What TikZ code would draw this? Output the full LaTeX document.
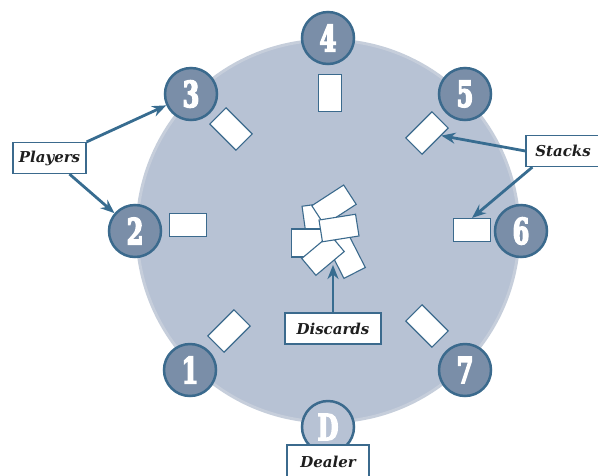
\documentclass[tikz,border=0pt]{standalone}
\usepackage{fontspec}
\usetikzlibrary{arrows.meta}
\newfontfamily\seatfont[FakeStretch=0.66,FakeBold=4]{DejaVu Serif}
\newfontfamily\tagfont{DejaVu Serif}
\definecolor{tablefill}{HTML}{B7C2D4}
\definecolor{tablering}{HTML}{C6CEDB}
\definecolor{seatfill}{HTML}{7A8EA8}
\definecolor{edgeblue}{HTML}{3B6A8D}
\definecolor{arrowblue}{HTML}{376C90}
\definecolor{inkblack}{HTML}{1E1E1E}
\tikzset{
  seat/.style={circle,draw=edgeblue,line width=2.5pt,fill=seatfill,minimum size=52pt,inner sep=0pt,text=white,font=\seatfont\bfseries\fontsize{36}{36}\selectfont},
  card/.style={draw=edgeblue,fill=white,line width=1.1pt,minimum width=37pt,minimum height=23pt,inner sep=0pt},
  tag/.style={draw=edgeblue,fill=white,line width=1.2pt,minimum height=31pt,inner sep=0pt,text=inkblack,font=\tagfont\bfseries\itshape\fontsize{15}{15}\selectfont},
  pointer/.style={-{Stealth[length=14pt,width=11pt]},arrowblue,line width=2.8pt}
}

\begin{document}
\begin{tikzpicture}[x=1pt,y=-1pt]
      \useasboundingbox (0,0) rectangle (598,475);
      \node[circle,fill=tablefill,draw=tablering,line width=3pt,minimum size=382pt] (table) at (328,231) {};

      % seats
      \node[seat] (p4) at (328,38) {4};
      \node[seat] (p5) at (465,94) {5};
      \node[seat] (p6) at (521,231) {6};
      \node[seat] (p7) at (465,370) {7};
      \node[seat,fill=tablefill] (pd) at (328,427) {D};
      \node[seat] (p1) at (190,370) {1};
      \node[seat] (p2) at (135,231) {2};
      \node[seat] (p3) at (191,94) {3};

      % stacks
      \node[card,rotate=90] (c4) at (330,93) {};
      \node[card,rotate=45] (c5) at (427,133) {};
      \node[card] (c6) at (472,230) {};
      \node[card,rotate=-45] (c7) at (427,326) {};
      \node[card,rotate=45] (c1) at (229,331) {};
      \node[card] (c2) at (188,225) {};
      \node[card,rotate=-45] (c3) at (231,129) {};

      % discard pile
      \node[card,rotate=98] (d1) at (316,223) {};
      \node[card,rotate=33,minimum width=38pt] (d2) at (334,205) {};
      \node[card,minimum height=28pt] (d3) at (310,243) {};
      \node[card,rotate=117,minimum width=38pt,minimum height=24pt] (d4) at (346,256) {};
      \node[card,rotate=40,minimum height=22pt] (d5) at (323,255) {};
      \node[card,rotate=9,minimum height=22pt] (d6) at (339,228) {};
      \coordinate (pile) at (333,265);

      % labels
      \node[tag,minimum width=73pt] (players) at (49.5,158) {Players};
      \node[tag,minimum width=74pt] (stacks) at (563,151) {Stacks};
      \node[tag,minimum width=96pt] (discards) at (333,328.5) {Discards};
      \node[tag,minimum width=82pt,minimum height=34pt] (dealer) at (328,462) {Dealer};

      \draw[pointer] (players.north east) -- (p3);
      \draw[pointer] ([xshift=20pt]players.south) -- (p2);
      \draw[pointer] (stacks.west) -- (c5);
      \draw[pointer] ([xshift=7pt]stacks.south west) -- (c6.north);
      \draw[pointer] (discards.north) -- (pile);
    \end{tikzpicture}
\end{document}
